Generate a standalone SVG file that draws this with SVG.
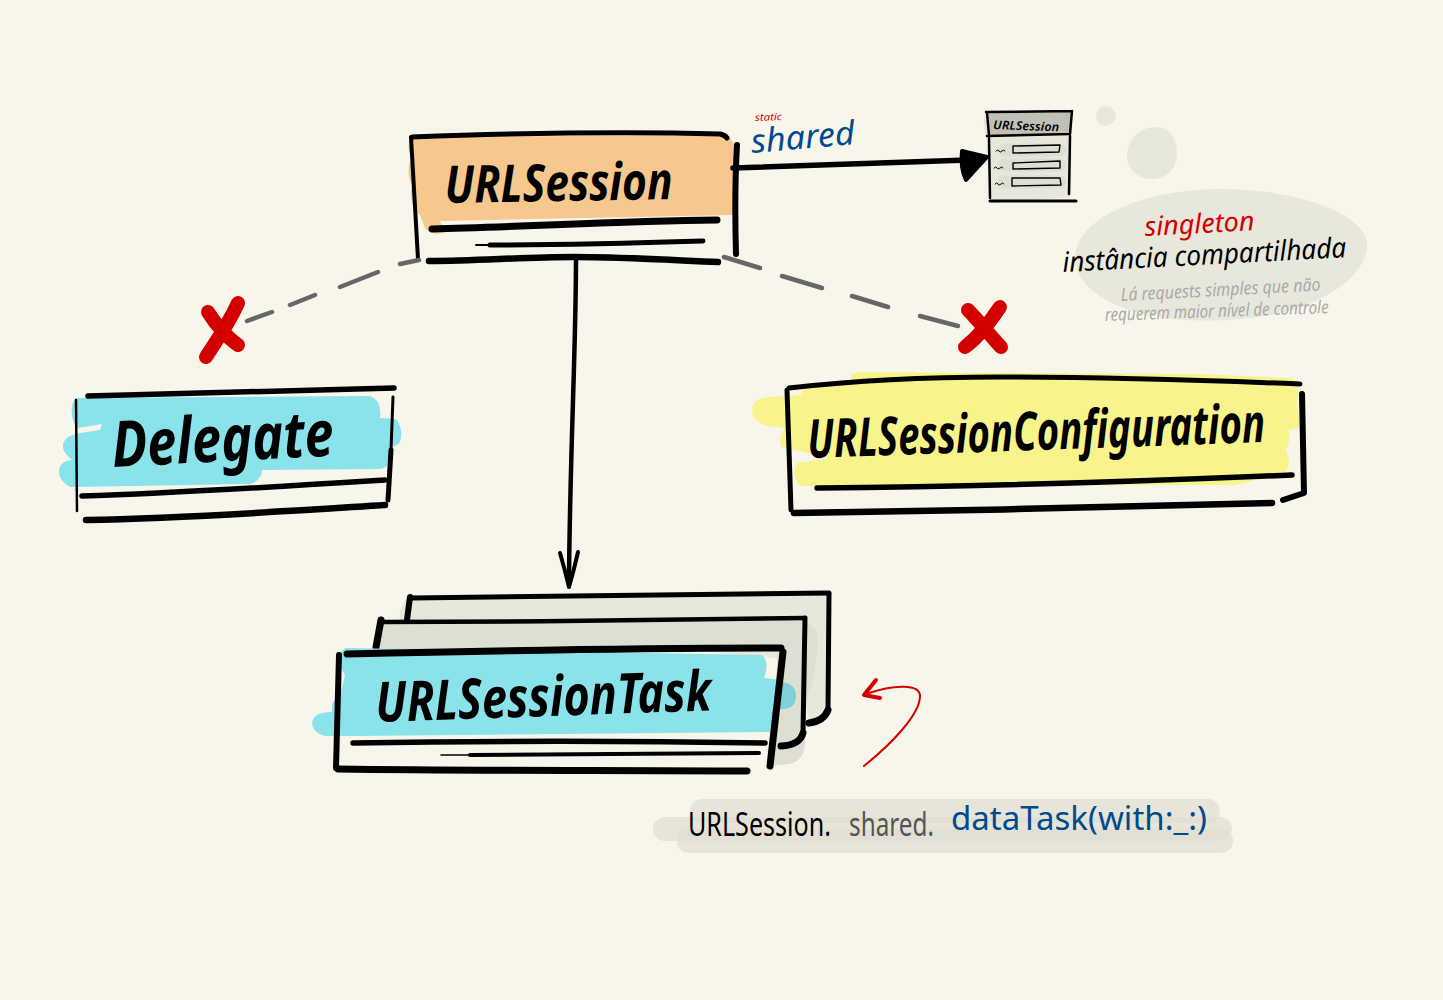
<svg xmlns="http://www.w3.org/2000/svg" width="1443" height="1000" viewBox="0 0 1443 1000">
<style>
.ink{fill:none;stroke:#000;stroke-linecap:round;stroke-linejoin:round}
.hl{fill:none;stroke-linecap:round;stroke-linejoin:round}
.dash{fill:none;stroke:#666;stroke-width:4.5;stroke-linecap:round}
.band{fill:none;stroke:#dfded2;stroke-opacity:.7;stroke-width:24;stroke-linecap:round}
text{font-family:"Noto Sans","Liberation Sans",sans-serif;font-style:italic}
.big{font-weight:700;fill:#000}
.code{font-style:normal}
</style>
<rect width="1443" height="1000" fill="#f8f6ea"/>
<g id="bubbles">
<ellipse cx="1106" cy="116" rx="10" ry="10" fill="#e8e7db"/>
<path d="M1127 155C1128 138 1140 127 1156 127C1170 127 1178 140 1177 155C1176 170 1165 180 1150 179C1137 178 1126 168 1127 155Z" fill="#e8e7db"/>
<path d="M1075 256C1078 215 1150 188 1225 189C1300 190 1367 215 1367 245C1367 275 1325 305 1270 315C1215 325 1150 322 1112 303C1088 291 1074 275 1075 256Z" fill="#e8e7db"/>
</g>
<g id="url-session">
<path d="M414 137L725 135Q735 140 735 150L733 215L440 221L445 232Q435 237 425 228L420 215Q408 205 412 185Q405 170 412 158Q404 145 414 137Z" fill="#f6c88d"/>
<path class="ink" stroke-width="4" d="M411 137L418 259"/>
<path class="ink" stroke-width="5" d="M412 137C520 133 620 131 720 134Q725 135 727 138"/>
<path class="ink" stroke-width="6" d="M737 145C735 180 735 220 736 254"/>
<path class="ink" stroke-width="7" d="M432 229C520 227 620 221 717 220"/>
<path class="ink" stroke-width="5" d="M490 245C560 245 640 243 703 241"/>
<path class="ink" stroke-width="2" d="M476 245L500 245"/>
<path class="ink" stroke-width="6.5" d="M429 261C480 261 520 257 575 257C620 257 670 260 718 262"/>
<text class="big" transform="translate(445 203) rotate(-1) scale(1 1.33)" font-size="39" textLength="228" lengthAdjust="spacingAndGlyphs">URLSession</text>
</g>
<g id="delegate">
<path d="M76 398L370 396Q382 400 380 418L396 419Q404 430 400 442Q398 446 390 447L389 464Q386 469 376 469L262 470Q262 480 250 484L70 487Q58 480 59 470Q60 461 72 460Q62 452 63 445Q64 436 80 433L100 430L102 424L78 428Q70 420 72 405Z" fill="#8ae2ea"/>
<path class="ink" stroke-width="2.5" d="M76 400L77 511"/>
<path class="ink" stroke-width="5.5" d="M88 396C200 394 300 391 394 388"/>
<path class="ink" stroke-width="3" d="M393 397L391 450"/>
<path class="ink" stroke-width="5" d="M391 450L388 500"/>
<path class="ink" stroke-width="5.5" d="M82 496C180 493 290 486 385 480"/>
<path class="ink" stroke-width="6.5" d="M86 520C190 518 290 511 385 505"/>
<text class="big" transform="translate(113 467) rotate(-3) scale(1 1.3)" font-size="49" textLength="222" lengthAdjust="spacingAndGlyphs">Delegate</text>
</g>
<g id="url-session-configuration">
<path d="M851 378Q851 372 860 372L1200 374L1292 378Q1300 382 1298 395L1297 403L1299 415L1299 428L1288 430Q1292 440 1286 450Q1292 462 1286 472L1236 485L800 486Q790 475 797 463L830 458L781 447Q778 437 785 428Q752 427 752 411Q752 398 770 397L800 395L805 388L851 384Z" fill="#f7f48b"/>
<path class="ink" stroke-width="5" d="M789 388C860 380 930 377 999 377C1100 377 1200 380 1300 384"/>
<path class="ink" stroke-width="5" d="M787 390L791 510"/>
<path class="ink" stroke-width="6" d="M1302 394L1304 493L1283 500"/>
<path class="ink" stroke-width="5.5" d="M817 488C950 487 1130 482 1292 475"/>
<path class="ink" stroke-width="6.5" d="M794 513C950 511 1120 507 1272 503"/>
<text class="big" transform="translate(808 458) rotate(-2) scale(1 1.45)" font-size="37" textLength="458" lengthAdjust="spacingAndGlyphs">URLSessionConfiguration</text>
</g>
<g id="url-session-task">
<path d="M410 597L829 594L828 712L809 722L800 660L400 625Q397 605 410 597Z" fill="#e8e7db"/>
<path d="M381 622L805 619L817 632Q820 660 807 700L805 740Q806 760 790 764L770 766L778 650L376 650Z" fill="#dfded2"/>
<path class="ink" stroke-width="5" d="M412 598C560 596 700 595 829 593"/>
<path class="ink" stroke-width="5" d="M829 594L828 710"/>
<path class="ink" stroke-width="7" d="M828 710Q824 721 809 723"/>
<path class="ink" stroke-width="6" d="M410 597L407 620"/>
<path class="ink" stroke-width="4.5" d="M381 622C520 622 680 620 805 618"/>
<path class="ink" stroke-width="5" d="M805 618L803 733"/>
<path class="ink" stroke-width="7" d="M803 733Q800 745 781 746"/>
<path class="ink" stroke-width="7" d="M381 620L376 647"/>
<path d="M341 652L345 648L762 655Q770 662 764 678L783 680L772 732L355 736L325 736Q312 732 312 723Q313 712 332 712Q330 700 340 697L345 675Q338 665 341 652Z" fill="#8ae2ea"/>
<path d="M776 682H783Q796 684 796 696Q796 708 784 709L774 710Z" fill="#7fd0d8"/>
<path class="ink" stroke-width="7" d="M347 654C480 651 640 648 781 648"/>
<path class="ink" stroke-width="6" d="M339 655L336 768"/>
<path class="ink" stroke-width="7" d="M783 652L770 766"/>
<path class="ink" stroke-width="5.5" d="M353 743C480 741 640 741 765 743"/>
<path class="ink" stroke-width="4" d="M470 755C560 755 670 753 759 753"/>
<path class="ink" stroke-width="1.5" d="M441 755L480 755"/>
<path class="ink" stroke-width="7" d="M338 769C480 771 620 770 747 771"/>
<text class="big" transform="translate(376 722) rotate(-2) scale(1 1.36)" font-size="41" textLength="336" lengthAdjust="spacingAndGlyphs">URLSessionTask</text>
</g>
<g id="shared-instance">
<path d="M985 114H1072L1071 197L992 203Q986 170 987 140Q982 125 985 114Z" fill="#e8e7db"/>
<path class="hl" d="M1004 150H1060M1004 165H1060M1003 182H1060" stroke="#dfded2" stroke-width="13"/>
<path d="M986 112H1072L1070 134L988 136Z" fill="#c0c0b4"/>
<path class="ink" stroke-width="2.5" d="M986 112L1072 111M987 113L989 135M1072 111L1070 134M987 136L1070 134"/>
<path class="ink" stroke-width="2.5" d="M989 138L990 198M1070 136L1069 194"/>
<path class="ink" stroke-width="3" d="M990 201L1076 201"/>
<path class="ink" stroke-width="1.4" d="M1013 146L1060 145L1059 152L1013 153ZM1013 163L1060 161L1060 168L1013 169ZM1012 178L1060 178L1061 185L1012 186Z"/>
<path class="ink" stroke-width="1" d="M996 151q2-2 3 0t3 0t3 0M994 168q2-2 3 0t3 0t3 0M995 184q2-2 3 0t3 0t3 0"/>
<text transform="translate(993 129) rotate(2)" font-size="12" font-weight="600" fill="#000" textLength="66" lengthAdjust="spacingAndGlyphs">URLSession</text>
</g>
<g id="connectors">
<path class="ink" stroke-width="5.5" d="M733 168C810 165 890 162 970 160"/>
<path d="M962 151L987 157L966 180C961 170 961 160 962 151Z" fill="#000" stroke="#000" stroke-width="4" stroke-linejoin="round"/>
<path class="ink" stroke-width="4.5" d="M576 258C576 350 570 450 569 580"/>
<path class="ink" stroke-width="4" d="M560 553Q565 570 569 587Q574 570 578 552"/>
<path class="dash" d="M247 321L272 312M290 305L315 295M340 287L378 272M400 264L419 260"/>
<path class="dash" d="M724 257L760 268M782 276L822 288M852 296L888 307M920 316L958 326"/>
<path class="hl" stroke="#d40000" stroke-width="14" d="M238 303C228 325 217 340 206 357M208 312C218 328 228 338 238 345"/>
<path class="hl" stroke="#d40000" stroke-width="14" d="M1000 307C990 322 977 338 965 347M968 310C980 322 992 338 1001 347"/>
<path class="hl" stroke="#d40000" stroke-width="2" d="M864 766C890 745 920 715 920 696C920 684 895 684 866 694"/>
<path class="hl" stroke="#d40000" stroke-width="4" d="M876 680L864 695L880 698"/>
</g>
<g id="labels">
<text transform="translate(755 121) rotate(-2)" font-size="10" fill="#d40000" textLength="27" lengthAdjust="spacingAndGlyphs">static</text>
<text transform="translate(752 153) rotate(-5)" font-size="33" fill="#004a8f" textLength="104" lengthAdjust="spacingAndGlyphs">shared</text>
<text transform="translate(1145 236) rotate(-3)" font-size="27" fill="#d40000" textLength="110" lengthAdjust="spacingAndGlyphs">singleton</text>
<text transform="translate(1063 272) rotate(-3)" font-size="28" fill="#000" textLength="284" lengthAdjust="spacingAndGlyphs">instância compartilhada</text>
<text transform="translate(1121 301) rotate(-3)" font-size="18" fill="#a9aaa8" textLength="200" lengthAdjust="spacingAndGlyphs">Lá requests simples que não</text>
<text transform="translate(1105 321) rotate(-2)" font-size="18" fill="#a9aaa8" textLength="224" lengthAdjust="spacingAndGlyphs">requerem maior nível de controle</text>
</g>
<g id="code-note">
<path class="band" d="M702 811H1208"/>
<path class="band" d="M665 829H1220"/>
<path class="band" d="M689 841H1221"/>
<text class="code" transform="translate(688 836) scale(1 1.35)" font-size="24" fill="#000" textLength="143" lengthAdjust="spacingAndGlyphs">URLSession.</text>
<text class="code" transform="translate(849 836) scale(1 1.35)" font-size="24" fill="#555" textLength="85" lengthAdjust="spacingAndGlyphs">shared.</text>
<text class="code" transform="translate(951 830) scale(1 1.15)" font-size="28" fill="#004a8f" textLength="256" lengthAdjust="spacingAndGlyphs">dataTask(with:_:)</text>
</g>
</svg>
